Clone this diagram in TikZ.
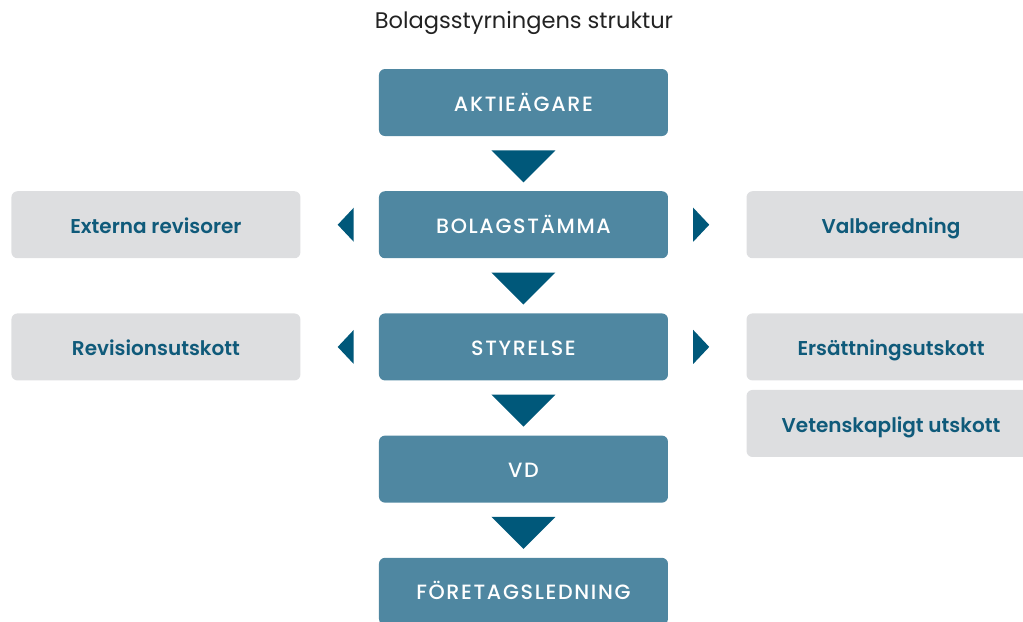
\documentclass[tikz,border=0pt]{standalone}
\usepackage{fontspec}
\setmainfont{Poppins}
\newfontfamily\spaced[LetterSpace=8, UprightFont=* Medium]{Poppins}
\newfontfamily\semibold[UprightFont=* SemiBold]{Poppins}
\usetikzlibrary{positioning, calc}
\definecolor{boxblue}{HTML}{4F87A1}
\definecolor{arrowblue}{HTML}{00587A}
\definecolor{boxgray}{HTML}{DDDEE0}
\definecolor{textblue}{HTML}{0F5A7A}
\definecolor{titlegray}{HTML}{222222}
\tikzset{
  orgchart/.style={
	node distance=41pt and 58.5pt, % gaps between the boxes
	every node/.style={inner sep=0pt},
  },
  box/.style={rounded corners=4.5pt, minimum width=216.75pt, minimum height=50.25pt, text height=12.8pt, text depth=0pt}, % caps centred in the box
  level/.style={box, fill=boxblue, text=white, font=\spaced\fontsize{15.5}{17}\selectfont}, % main chain boxes
  side/.style={box, fill=boxgray, text=textblue, font=\semibold\fontsize{15}{17}\selectfont}, % side boxes
  tip/.style={fill=arrowblue}, % the triangles
}
\begin{document}
\begin{tikzpicture}[orgchart]
	  \useasboundingbox (0,0) rectangle (767.25pt,-465.75pt);
	  \node[text=titlegray, font=\fontsize{16.9}{19}\selectfont] (title) at (393pt,-17.25pt) {Bolagsstyrningens struktur};

	  \node[level] (agare) at (392.6pt,-76.9pt) {AKTIEÄGARE};
	  \node[level, below=of agare] (stamma) {BOLAGSTÄMMA};
	  \node[level, below=of stamma] (styrelse) {STYRELSE};
	  \node[level, below=of styrelse] (vd) {VD};
	  \node[level, below=of vd] (ledning) {FÖRETAGSLEDNING};

	  \node[side, left=of stamma] (revisorer) {Externa revisorer};
	  \node[side, left=of styrelse] (revutskott) {Revisionsutskott};
	  \node[side, right=of stamma] (valberedning) {Valberedning};
	  \node[side, right=of styrelse] (ersattning) {Ersättningsutskott};
	  \node[side, below=6.75pt of ersattning] (vetenskap) {Vetenskapligt utskott};

	  % down triangles between the levels
	  \foreach \a in {agare, stamma, styrelse, vd}
		  \fill[tip] ($(\a.south)+(-24pt,-10.5pt)$) -- ++(48pt,0) -- ++(-24pt,-24pt) -- cycle;

	  % side triangles
	  \foreach \a in {stamma, styrelse} {
		  \fill[tip] ($(\a.west)+(-18.75pt,12.75pt)$) -- ++(0,-25.5pt) -- ++(-12pt,12.75pt) -- cycle;
		  \fill[tip] ($(\a.east)+(18.75pt,12.75pt)$) -- ++(0,-25.5pt) -- ++(12pt,12.75pt) -- cycle;
	  }
\end{tikzpicture}
\end{document}
